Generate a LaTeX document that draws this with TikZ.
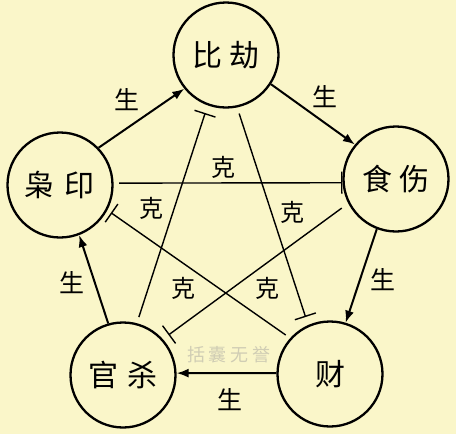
\documentclass[tikz,border=0pt]{standalone}
\usepackage{fontspec}
\newfontfamily\cjk{Noto Sans CJK SC}
\usetikzlibrary{arrows.meta}
\definecolor{paper}{RGB}{250,246,201}
\definecolor{faint}{RGB}{208,205,180}

\begin{document}
\begin{tikzpicture}[x=.5pt,y=-.5pt,
    wx/.style={circle,draw,line width=1.15pt,minimum size=52.5pt,inner sep=0,
      font=\cjk\fontsize{15}{15}\selectfont},
    sheng/.style={line width=1pt,-{Latex[length=6pt,width=4.5pt]}},
    ke/.style={line width=.7pt,-{Bar[width=11pt]}},
    lbl/.style={font=\cjk\fontsize{12.5}{12.5}\selectfont,inner sep=0}]
      \fill[paper] (0,0) rectangle (456,434);
      \useasboundingbox (0,0) rectangle (456,434);
      % the five circles
      \node[wx] (bijie) at (226,55) {比\hspace{4pt}劫};
      \node[wx] (shishang) at (396,179) {食\hspace{4pt}伤};
      \node[wx] (cai) at (330,374) {财};
      \node[wx] (guansha) at (123,375) {官\hspace{5pt}杀};
      \node[wx] (xiaoyin) at (60,185) {枭\hspace{5pt}印};
      % sheng, round the outside
      \draw[sheng] (xiaoyin.44) -- (bijie.219);
      \draw[sheng] (bijie.-33) -- (shishang.140);
      \draw[sheng] (shishang.249) -- (cai.73);
      \draw[sheng] (cai.179) -- (guansha.2);
      \draw[sheng] (guansha.106) -- (xiaoyin.-69);
      \node[lbl] (s1) at (127,100) {生};
      \node[lbl] (s2) at (325,97) {生};
      \node[lbl] (s3) at (383,280) {生};
      \node[lbl] (s4) at (230,400) {生};
      \node[lbl] (s5) at (72,283) {生};
      % ke, the star inside
      \draw[ke,shorten <=2.8pt] (xiaoyin.2) -- (shishang.184);
      \draw[ke,shorten <=3.2pt,shorten >=4.2pt] (bijie.-78) -- (cai.114);
      \draw[ke,shorten <=3.2pt,shorten >=4pt] (guansha.75) -- (bijie.250);
      \draw[ke,shorten <=2.7pt,shorten >=2.2pt] (cai.138) -- (xiaoyin.-28);
      \draw[ke,shorten <=4pt,shorten >=3.5pt] (shishang.207) -- (guansha.42);
      \node[lbl,font=\cjk\fontsize{12}{12}\selectfont] (k1) at (223,167) {克};
      \node[lbl,font=\cjk\fontsize{12}{12}\selectfont] (k2) at (152,208) {克};
      \node[lbl,font=\cjk\fontsize{12}{12}\selectfont] (k3) at (292,212) {克};
      \node[lbl,font=\cjk\fontsize{12}{12}\selectfont] (k4) at (183,288) {克};
      \node[lbl,font=\cjk\fontsize{12}{12}\selectfont] (k5) at (267,288) {克};
      \node[text=faint,font=\cjk\fontsize{9}{9}\selectfont,inner sep=0] (mark) at (229,355)
        {括\hspace{2pt}囊\hspace{2pt}无\hspace{2pt}誉};
    \end{tikzpicture}
\end{document}
